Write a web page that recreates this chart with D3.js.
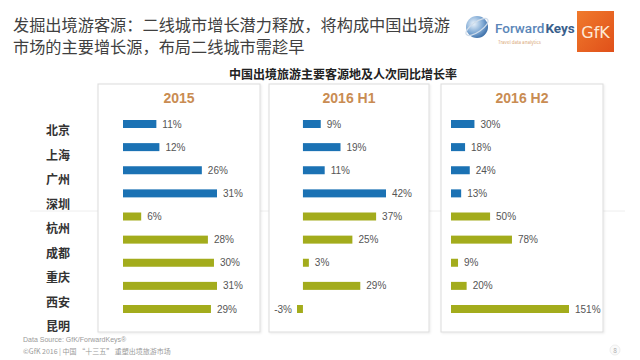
<!DOCTYPE html>
<html><head><meta charset="utf-8">
<script src="https://cdn.jsdelivr.net/npm/d3@7"></script>
<style>
html,body{margin:0;padding:0;background:#fff;}
svg{display:block;font-family:"Noto Sans CJK SC","Noto Sans",sans-serif;}
</style></head>
<body><svg id="c" width="640" height="360"></svg>
<script>
const cities = ["北京","上海","广州","深圳","杭州","成都","重庆","西安","昆明"];
const periods = ["2015","2016 H1","2016 H2"];
const values2015 = [11,12,26,31,6,28,30,31,29];
const values2016H1 = [9,19,11,42,37,25,3,29,-3];
const values2016H2 = [30,18,24,13,50,78,9,20,151];
const groupOf = ["tier1","tier1","tier1","tier1","tier2","tier2","tier2","tier2","tier2"];
const seriesValues = [values2015, values2016H1, values2016H2];

const svg = d3.select("#c");
const colors = {tier1:"#1b72b4", tier2:"#a3ac1c"};

// Title
const title = svg.append("text").attr("x",13).attr("font-size",16.2).attr("fill","#404040");
title.append("tspan").attr("x",13).attr("y",31).text("发掘出境游客源：二线城市增长潜力释放，将构成中国出境游");
title.append("tspan").attr("x",13).attr("y",53).text("市场的主要增长源，布局二线城市需趁早");

// Logos
const defs = svg.append("defs");
const g1 = defs.append("radialGradient").attr("id","globe").attr("cx","35%").attr("cy","35%").attr("r","70%");
g1.append("stop").attr("offset","0%").attr("stop-color","#e8f2fb");
g1.append("stop").attr("offset","60%").attr("stop-color","#7fa9d4");
g1.append("stop").attr("offset","100%").attr("stop-color","#3d6fa8");
svg.append("circle").attr("cx",477).attr("cy",27).attr("r",11).attr("fill","url(#globe)");
svg.append("ellipse").attr("cx",477).attr("cy",27).attr("rx",13).attr("ry",5).attr("fill","none").attr("stroke","#cfdcea").attr("stroke-width",1.2).attr("transform","rotate(-35 477 27)");
const fwd = svg.append("text").attr("x",495).attr("y",33).attr("font-family","Roboto, 'DejaVu Sans'").attr("font-size",13.5).attr("font-weight",500)
  .attr("fill","#5b86b8").text("Forward");
const fwdW = fwd.node().getComputedTextLength();
svg.append("text").attr("x",495+fwdW+1).attr("y",33).attr("font-family","Roboto, 'DejaVu Sans'").attr("font-size",13.5).attr("font-weight",700)
  .attr("fill","#3a5f8c").text("Keys");
svg.append("text").attr("x",498).attr("y",44).attr("font-size",4.5).attr("fill","#d9a878").text("Travel data analytics");
const g2 = defs.append("linearGradient").attr("id","gfk").attr("x1","0").attr("y1","0").attr("x2","1").attr("y2","1");
g2.append("stop").attr("offset","0%").attr("stop-color","#f07a2c");
g2.append("stop").attr("offset","100%").attr("stop-color","#e0501a");
svg.append("rect").attr("x",577).attr("y",11).attr("width",37).attr("height",41).attr("fill","url(#gfk)");
svg.append("text").attr("x",595.5).attr("y",38).attr("text-anchor","middle").attr("font-family","'DejaVu Sans', sans-serif").attr("font-size",16).attr("fill","#fde9d6").text("GfK");

// Chart title
svg.append("text").attr("x",343).attr("y",79).attr("text-anchor","middle").attr("font-size",12).attr("font-weight",700).attr("fill","#222").text("中国出境旅游主要客源地及人次同比增长率");

// faint divider
svg.append("line").attr("x1",30).attr("x2",625).attr("y1",211).attr("y2",211).attr("stroke","#eeeeee").attr("stroke-width",1);

// Panels layout
const panelBox = [[98,260],[269,429],[441,603]];
const panelTop = 84, panelBottom = 332;
const barRanges = [[123,217],[297,386],[451,569]];

const yBar = d3.scalePoint().domain(cities).range([124,309]);
const yLab = d3.scalePoint().domain(cities).range([131,327]);
const barH = 8;

const shadow = defs.append("filter").attr("id","sh").attr("x","-5%").attr("y","-5%").attr("width","110%").attr("height","110%");
shadow.append("feDropShadow").attr("dx",1).attr("dy",1).attr("stdDeviation",1).attr("flood-color","#000").attr("flood-opacity",0.08);

periods.forEach((p,i)=>{
  const [x0,x1] = panelBox[i];
  svg.append("rect").attr("x",x0).attr("y",panelTop).attr("width",x1-x0).attr("height",panelBottom-panelTop)
    .attr("fill","#fff").attr("stroke","#dcdcdc").attr("stroke-width",1).attr("filter","url(#sh)");
  svg.append("text").attr("x",(x0+x1)/2).attr("y",103).attr("text-anchor","middle")
    .attr("font-family","Arial, 'Liberation Sans', sans-serif").attr("font-size",14).attr("font-weight",700)
    .attr("fill","#c98c52").text(p);
  const vals = seriesValues[i];
  const x = d3.scaleLinear().domain([Math.min(0,d3.min(vals)), d3.max(vals)]).range(barRanges[i]);
  const g = svg.append("g");
  const data = cities.map((c,j)=>({c, v:vals[j], grp:groupOf[j]}));
  g.selectAll("rect").data(data).join("rect")
    .attr("x",d=>x(Math.min(0,d.v))).attr("width",d=>Math.abs(x(d.v)-x(0)))
    .attr("y",d=>yBar(d.c)-barH/2).attr("height",barH)
    .attr("fill",d=>colors[d.grp]);
  g.selectAll("text").data(data).join("text")
    .attr("x",d=>d.v>=0 ? x(d.v)+6 : x(d.v)-5)
    .attr("text-anchor",d=>d.v>=0?"start":"end")
    .attr("y",d=>yBar(d.c)).attr("dy","0.35em")
    .attr("font-family","Arial, 'Liberation Sans', sans-serif").attr("font-size",10).attr("fill","#555")
    .text(d=>d.v+"%");
});

// City labels
svg.append("g").selectAll("text").data(cities).join("text")
  .attr("x",58).attr("y",d=>yLab(d)).attr("dy","0.36em").attr("text-anchor","middle")
  .attr("font-size",12).attr("font-weight",700).attr("fill","#333").text(d=>d);

// Footer
svg.append("text").attr("x",23).attr("y",342).attr("font-size",7).attr("fill","#9a9a9a").attr("font-family","Arial, 'Liberation Sans', sans-serif").text("Data Source: GfK/ForwardKeys®");
svg.append("text").attr("x",23).attr("y",354).attr("font-size",7).attr("fill","#9a9a9a").text("©GfK 2016 | 中国 “十三五” 重塑出境旅游市场");
svg.append("circle").attr("cx",615).attr("cy",350).attr("r",5).attr("fill","#fafafa").attr("stroke","#eee");
svg.append("text").attr("x",615).attr("y",352.5).attr("text-anchor","middle").attr("font-size",6.5).attr("fill","#aaa").text("8");
</script></body></html>
